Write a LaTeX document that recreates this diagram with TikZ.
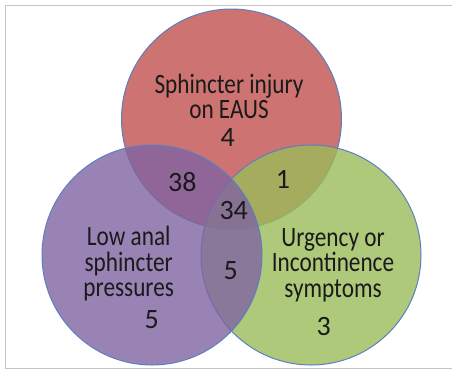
\documentclass[tikz,border=0pt]{standalone}
\usepackage{fontspec}
\setmainfont{Carlito}
\newfontfamily\labelfont[FakeStretch=0.83]{Carlito}
\usepackage{xcolor}
\usepackage{tikz}
\usetikzlibrary{positioning}

\definecolor{eausred}{HTML}{C0504D}
\definecolor{lowpurple}{HTML}{8064A2}
\definecolor{urggreen}{HTML}{9BBB59}
\definecolor{ringblue}{HTML}{5B7FBF}
\definecolor{framegray}{HTML}{C4C4C4}
\definecolor{txt}{HTML}{1A1A1A}

\begin{document}
\begin{tikzpicture}[
  x=1pt, y=-1pt,
  set/.style={circle, minimum size=220pt, inner sep=0pt, outer sep=0pt, draw=ringblue, line width=1pt, fill opacity=0.8},
  label/.style={font=\labelfont\fontsize{28}{25.5}\selectfont, align=center, text=txt, inner sep=0pt},
  count/.style={font=\fontsize{28}{30}\selectfont, text=txt, inner sep=0pt},
  frame/.style={draw=framegray, line width=1.2pt},
]
\useasboundingbox (0,0) rectangle (452,370);
\draw[frame] (452,5.5) -- (5.5,5.5) -- (5.5,368.5) -- (452,368.5);

% the three sets
\node[set, fill=eausred] (eaus) at (231.5,119) {};
\node[set, fill=urggreen] (urgency) at (311,255) {};
\node[set, fill=lowpurple] (lowpress) at (152,255) {};

% set names
\node[label] (eausname) at (229,96.5) {Sphincter injury\\on EAUS};
\node[label] (lowname) at (128.7,264) {Low anal\\sphincter\\pressures};
\node[label] (urgname) at (333,265) {Urgency or\\Incontinence\\symptoms};

% counts
\node[count] (neaus) at (227.7,137.7) {4};
\node[count] (nlow) at (151.7,320) {5};
\node[count] (nurg) at (323.7,326.7) {3};
\node[count] (neauslow) at (182.3,182.5) {38};
\node[count] (neausurg) at (283,179.5) {1};
\node[count] (nlowurg) at (230.8,271) {5};
\node[count] (nall) at (233.7,210.5) {34};
\end{tikzpicture}
\end{document}
